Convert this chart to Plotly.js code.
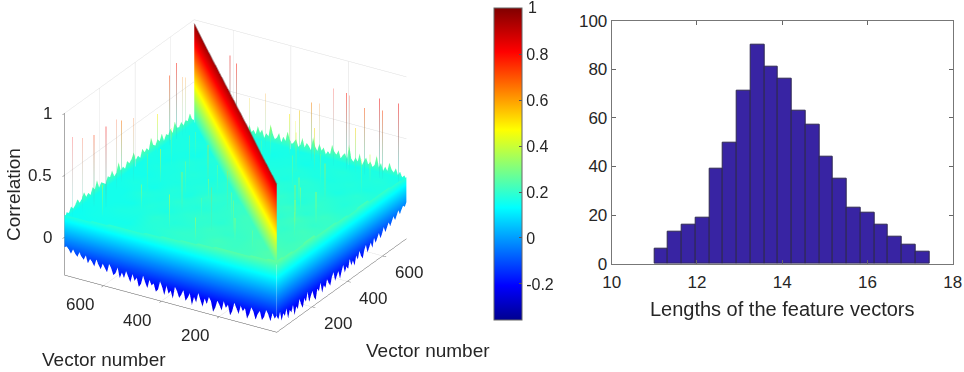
<!DOCTYPE html>
<html><head><meta charset="utf-8">
<script src="https://cdn.plot.ly/plotly-3.0.0.min.js"></script>
<style>html,body{margin:0;padding:0;background:#fff}#c{width:964px;height:372px}</style>
</head><body><div id="c"></div>
<script>
// Histogram
const binCenters=[11.16,11.48,11.81,12.13,12.45,12.77,13.10,13.42,13.74,14.06,14.39,14.71,15.03,15.35,15.68,16.00,16.32,16.64,16.97,17.29];
const binCounts=[6,13,16,19,39,50,71,90,81,76,63,57,44,35,23,21,16,11,8,5];
const binWidth=0.3225;
const histYTicks=[0,20,40,60,80,100];
const histXTicks=[10,12,14,16,18];
// Correlation surface
const vectorMax=735;
const zLimits=[-0.306,1];
const colorLimits=[-0.357,1.001];
const jet=[[0,'rgb(0,0,143)'],[0.11,'rgb(0,0,255)'],[0.36,'rgb(0,255,255)'],[0.61,'rgb(255,255,0)'],[0.86,'rgb(255,0,0)'],[1,'rgb(128,0,0)']];
const barTickVals=[-0.2,0,0.2,0.4,0.6,0.8];
const barTickText=['-0.2','0','0.2','0.4','0.6','0.8'];
const vectorTicks=[200,400,600];
const corrTicks=[0,0.5,1];
// top of the correlation cloud, coarse grid (rows: y, columns: x)
const forestTop=[
[.24,.23,.22,.23,.21,.21,.20,.19,.20,.18,.18,.17,.16],
[.23,.24,.22,.21,.22,.20,.21,.19,.18,.19,.17,.18,.17],
[.22,.22,.23,.21,.20,.22,.19,.20,.19,.17,.18,.17,.17],
[.22,.21,.21,.22,.21,.19,.21,.18,.19,.18,.17,.18,.16],
[.21,.22,.20,.21,.22,.20,.19,.20,.18,.19,.17,.17,.17],
[.20,.20,.21,.19,.20,.21,.19,.18,.19,.17,.18,.16,.17],
[.19,.20,.19,.20,.19,.19,.20,.19,.17,.18,.17,.17,.16],
[.18,.19,.18,.19,.18,.20,.18,.19,.18,.17,.17,.16,.17],
[.17,.18,.19,.17,.19,.17,.18,.17,.18,.17,.16,.17,.17],
[.17,.16,.17,.18,.17,.18,.17,.18,.17,.18,.17,.16,.17],
[.16,.16,.17,.16,.18,.16,.17,.17,.18,.16,.17,.17,.16],
[.15,.16,.16,.16,.16,.17,.16,.17,.16,.17,.17,.16,.17],
[.15,.15,.16,.16,.16,.16,.16,.16,.17,.16,.17,.17,.17]];
// lower teeth of the two front edges, from the near corner outward
const lowLeftEdge=[-.17,-.2,-.16,-.23,-.18,-.15,-.21,-.24,-.17,-.2,-.25,-.19,-.16,-.22,-.26,-.18,-.21,-.17,-.24,-.2,-.16,-.23,-.27,-.19,-.22,-.17,-.25,-.21,-.18,-.24,-.28,-.2,-.17,-.23,-.19,-.26,-.21,-.16,-.24,-.2,-.27,-.18,-.22,-.25,-.17,-.21,-.24,-.19,-.16,-.26,-.2,-.23,-.17,-.25,-.19,-.15,-.22,-.24,-.18,-.2,-.16,-.23,-.19,-.14,-.21,-.24,-.17,-.2,-.15,-.22,-.18,-.14,-.2,-.16,-.21,-.13,-.18,-.2,-.15,-.12,-.19,-.16,-.13,-.18,-.15,-.11,-.17,-.14,-.12,-.16,-.1,-.14,-.12,-.09,-.13,-.11,-.08,-.12,-.09,-.07,-.08];
const lowRightEdge=[-.18,-.21,-.16,-.24,-.19,-.22,-.17,-.26,-.2,-.23,-.18,-.27,-.21,-.24,-.17,-.22,-.26,-.19,-.23,-.16,-.25,-.21,-.18,-.24,-.27,-.19,-.22,-.16,-.25,-.2,-.23,-.17,-.21,-.24,-.18,-.15,-.23,-.2,-.17,-.24,-.19,-.15,-.22,-.18,-.21,-.14,-.2,-.17,-.22,-.15,-.19,-.13,-.18,-.21,-.15,-.12,-.19,-.16,-.13,-.18,-.11,-.16,-.13,-.1,-.15,-.12,-.08,-.13,-.1,-.07,-.11,-.08,-.05,-.09,-.06,-.03,-.07,-.04,-.02,-.04,-.01];
// upper jag of the two back edges, from the side corner to the far corner
const highLeftEdge=[.15,.19,.17,.21,.18,.2,.23,.19,.21,.25,.2,.22,.19,.24,.21,.27,.2,.23,.21,.19,.24,.22,.26,.2,.22,.29,.21,.23,.2,.25,.22,.24,.28,.21,.23,.2,.26,.22,.24,.21,.3,.23,.21,.25,.22,.27,.2,.24,.22,.26,.21,.29,.23,.22,.25,.21,.24,.22,.27,.21,.19];
const highRightEdge=[.17,.2,.18,.22,.19,.24,.2,.22,.27,.2,.23,.19,.25,.21,.3,.22,.2,.24,.21,.26,.23,.19,.28,.21,.24,.2,.22,.33,.21,.25,.23,.2,.26,.22,.24,.29,.21,.23,.2,.25,.22,.27,.21,.24,.31,.2,.23,.25,.21,.28,.22,.2,.26,.23,.21,.24,.3,.22,.25,.2,.27,.23,.21,.25,.32,.22,.24,.2,.26,.23,.28,.21,.24,.22,.27,.2,.25,.31,.22,.24,.2,.26,.23,.28,.21,.25,.22,.29,.23,.2,.26,.22,.24,.27,.21,.25,.23,.2,.24,.21,.19];
const rimBase=[.12];
const wallOverlap=[.03];
// the self-correlation ridge along the diagonal
const ridgePos=[0,120,250,370,490,610,735];
const ridgeTop=[.89,.90,.92,.93,.94,.95,.97];
const ridgeBase=[.2,.2,.19,.19,.18,.18,.18];
// isolated high correlations: position pair and peak
const spikeX=[11,64,106,116,235,287,305,502,570,610,645,662,698,698,698,698,698,698,698,698,698,698,698,698,698,698,698,698,420,300,200,350,120,90,300,500,420,600,250,650,
 60,150,250,340,450,520,80,180,260,30,130,60,200,380,300,200,320,380,470,560,640,660,580,500,620,680,600,680,640];
const spikeY=[713,713,698,662,698,713,683,720,720,720,720,720,566,588,522,466,382,348,306,279,231,185,175,154,123,71,60,5,560,500,450,420,300,200,120,250,180,300,90,420,
 640,560,600,610,640,600,420,370,330,300,230,120,280,470,420,60,60,150,120,190,260,80,60,370,500,350,420,620,570];
const spikeZ=[.81,.75,.74,.82,.73,.66,.68,.49,.73,.79,.64,.62,.79,.84,.54,.61,.50,.55,.64,.65,.80,.79,.78,.53,.71,.82,.73,.82,.50,.45,.50,.42,.55,.40,.50,.45,.40,.50,.45,.42,
 .42,.38,.50,.44,.48,.40,.46,.36,.52,.40,.48,.38,.44,.52,.36,.42,.46,.38,.50,.44,.52,.40,.46,.38,.44,.48,.36,.42,.50];
const spikeFoot=[.15];

const FONT='"Liberation Sans",Arial,sans-serif', INK='#262626';
const grid=n=>Array.from({length:n},(_,i)=>i*vectorMax/(n-1));
const flat={ambient:1,diffuse:0,specular:0,roughness:1,fresnel:0};
function surf(x,y,z,extra){return Object.assign({type:'surface',x,y,z,surfacecolor:z,cmin:colorLimits[0],cmax:colorLimits[1],colorscale:jet,showscale:false,lighting:flat,hoverinfo:'skip',scene:'scene'},extra||{});}
function wall(len,fixedAxis,fixedVal,rows){
  const g=grid(len),fx=rows.map(()=>g.map(()=>fixedVal));
  const ga=rows.map(()=>g);
  return fixedAxis==='x'?surf(fx,ga,rows):surf(ga,fx,rows);
}
const N=forestTop.length;
const nearest=(arr,i,len)=>arr[Math.round(i*(arr.length-1)/(len-1))]+wallOverlap[0];
const topLeftEdge=forestTop.map(r=>r[0]);   // x = 0
const topRightEdge=forestTop[0];            // y = 0
const traces=[];
traces.push(surf(grid(N),grid(N),forestTop,{showscale:true,colorbar:{
  x:494/964,xanchor:'left',xpad:0,ypad:0,y:52/372,yanchor:'bottom',len:312/372,lenmode:'fraction',thickness:28,thicknessmode:'pixels',
  tickmode:'array',tickvals:barTickVals,ticktext:barTickText,ticks:'inside',ticklen:3,tickcolor:'#555',outlinecolor:'#666',outlinewidth:1,
  tickfont:{family:FONT,size:16,color:INK}}}));
traces.push(wall(lowLeftEdge.length,'x',0,[lowLeftEdge,lowLeftEdge.map((_,i)=>nearest(topLeftEdge,i,lowLeftEdge.length))]));
traces.push(wall(lowRightEdge.length,'y',0,[lowRightEdge,lowRightEdge.map((_,i)=>nearest(topRightEdge,i,lowRightEdge.length))]));
traces.push(wall(highLeftEdge.length,'y',vectorMax,[highLeftEdge.map(()=>rimBase[0]),highLeftEdge]));
traces.push(wall(highRightEdge.length,'x',vectorMax,[highRightEdge.map(()=>rimBase[0]),highRightEdge]));
traces.push(surf([ridgePos,ridgePos],[ridgePos,ridgePos],[ridgeBase,ridgeTop]));
traces.push({type:'scatter3d',mode:'lines',x:ridgePos,y:ridgePos,z:ridgeTop,opacity:0.45,hoverinfo:'skip',scene:'scene',showlegend:false,
  line:{width:3,color:'rgb(110,70,70)'}});
const sx=[],sy=[],sz=[];
spikeX.forEach((v,i)=>{sx.push(v,v,null);sy.push(spikeY[i],spikeY[i],null);sz.push(spikeFoot[0],spikeZ[i],null);});
traces.push({type:'scatter3d',mode:'lines',x:sx,y:sy,z:sz,opacity:0.5,hoverinfo:'skip',scene:'scene',showlegend:false,
  line:{width:1.5,color:sz.map(v=>v===null?0:v),cmin:colorLimits[0],cmax:colorLimits[1],colorscale:jet}});
traces.push({type:'bar',x:binCenters,y:binCounts,width:binWidth,xaxis:'x',yaxis:'y',hoverinfo:'skip',showlegend:false,
  marker:{color:'rgb(56,36,163)',line:{color:'rgb(45,40,80)',width:1}}});

const ax3=(range,vals)=>({range,autorange:false,tickmode:'array',tickvals:vals,showticklabels:false,
  title:{text:''},showgrid:true,gridcolor:'rgb(222,222,222)',gridwidth:1,zeroline:false,showbackground:false,showspikes:false,
  showline:true,linecolor:'#555',linewidth:1,ticks:'outside',ticklen:4,tickcolor:'#555'});
const ann=(text,x,y,extra)=>Object.assign({text,x:x/964,y:1-y/372,xref:'paper',yref:'paper',showarrow:false,xanchor:'center',yanchor:'middle',font:{family:FONT,size:19,color:INK}},extra||{});
const tickFont={family:FONT,size:17,color:INK};
const sceneNotes=[
  ...vectorTicks.map(v=>({x:v,y:0,z:zLimits[0],text:String(v),showarrow:false,xshift:26,yshift:-17,font:tickFont})),
  ...vectorTicks.map(v=>({x:0,y:v,z:zLimits[0],text:String(v),showarrow:false,xshift:-24,yshift:-19,font:tickFont})),
  ...corrTicks.map(v=>({x:0,y:vectorMax,z:v,text:String(v),showarrow:false,xanchor:'right',xshift:-11,font:tickFont}))];
const k=1.9, zoom=1.413;
const layout={width:964,height:372,margin:{l:0,r:0,t:0,b:0},paper_bgcolor:'#fff',plot_bgcolor:'#fff',showlegend:false,bargap:0,
  scene:{domain:{x:[0,471/964],y:[20/372,1]},aspectmode:'manual',aspectratio:{x:zoom,y:zoom,z:0.725*zoom},annotations:sceneNotes,
    camera:{projection:{type:'orthographic'},eye:{x:-.766*k,y:-.468*k,z:.441*k},center:{x:0,y:0,z:0},up:{x:0,y:0,z:1}},
    xaxis:ax3([0,vectorMax],vectorTicks),yaxis:ax3([0,vectorMax],vectorTicks),zaxis:ax3(zLimits,corrTicks)},
  xaxis:{domain:[611.7/964,952.7/964],range:[10,18],tickmode:'array',tickvals:histXTicks,ticks:'inside',ticklen:4,tickcolor:'#666',mirror:'ticks',showline:true,linecolor:'#777',linewidth:1,showgrid:false,zeroline:false,tickfont:{family:FONT,size:17,color:INK},ticklabelstandoff:3,
    title:{text:'Lengths of the feature vectors',font:{family:FONT,size:20,color:INK},standoff:10}},
  yaxis:{domain:[(372-263.7)/372,(372-20.7)/372],range:[0,100],tickmode:'array',tickvals:histYTicks,ticks:'inside',ticklen:4,tickcolor:'#666',mirror:'ticks',showline:true,linecolor:'#777',linewidth:1,showgrid:false,zeroline:false,tickfont:{family:FONT,size:17,color:INK}},
  annotations:[ann('Correlation',13,195,{textangle:-90}),ann('Vector number',104,359),ann('Vector number',428,350),
    ann('1',532,8,{font:{family:FONT,size:16,color:INK}})]};
Plotly.newPlot('c',traces,layout,{displayModeBar:false});
</script></body></html>
